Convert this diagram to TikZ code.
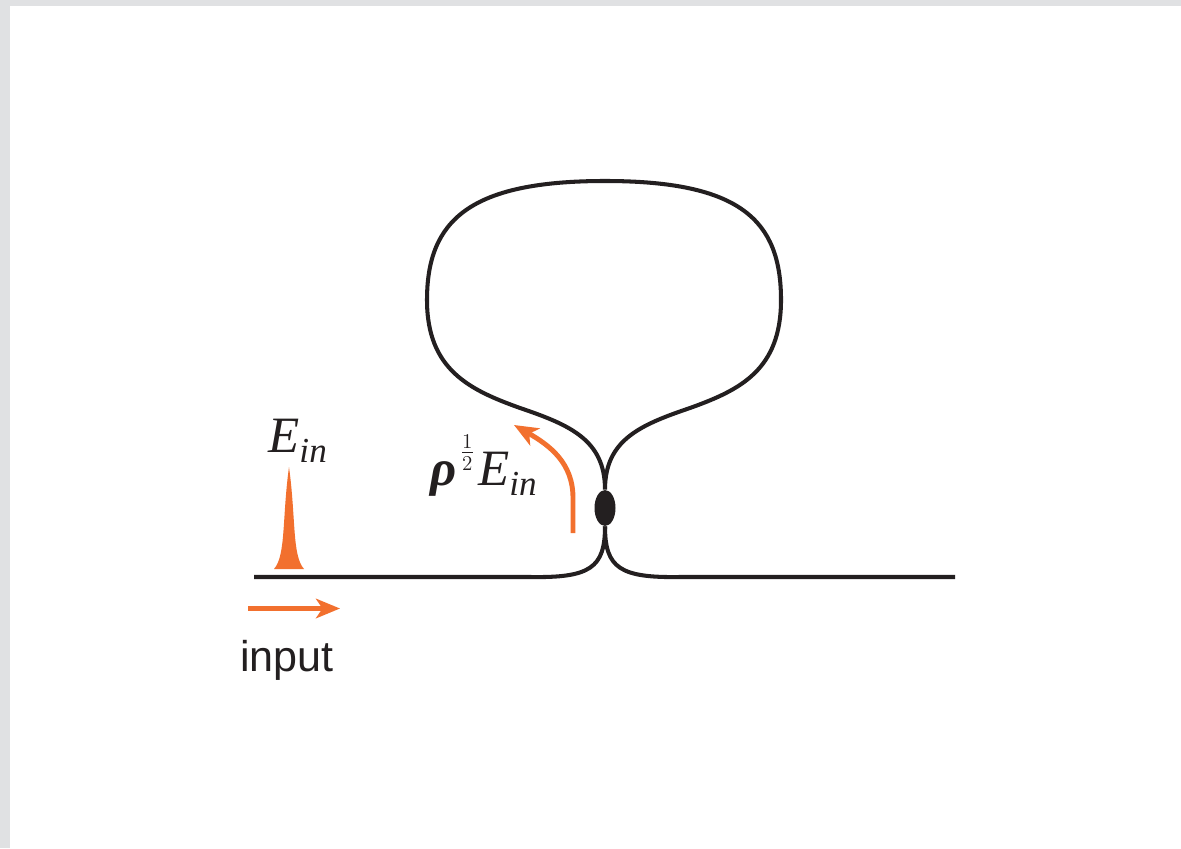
\documentclass[tikz,border=0pt]{standalone}
\usepackage{fontspec}
\setmainfont{Liberation Serif}
\newfontfamily\labelfont{Liberation Sans}
\usetikzlibrary{arrows.meta, shapes.geometric}
\definecolor{ringOrange}{HTML}{F2702E}
\definecolor{ringInk}{HTML}{231F20}
\definecolor{ringEdge}{HTML}{E0E1E3}
\newcommand{\Ein}{{\itshape E\raisebox{-6pt}{\fontsize{20}{20}\selectfont in}}}

\begin{document}
\begin{tikzpicture}[
  fibre/.style={draw=ringInk, line width=2.3pt},
  cplr/.style={ellipse, fill=ringInk, inner sep=0pt, minimum width=0.42cm, minimum height=0.72cm},
  arr/.style={-{Stealth[length=4.8mm, width=3.9mm, inset=1.3mm]}, draw=ringOrange, line width=2.4pt},
  lab/.style={font=\fontsize{29}{31}\selectfont, text=ringInk, inner sep=0pt, anchor=base west}
]
\useasboundingbox (0, 0) rectangle (23.62, 16.96);

% page edge
\fill[ringEdge] (0, 0) rectangle (23.62, 16.96);
\fill[white] (0.2, 0) rectangle (23.62, 16.84);

% ===== Coupler and ring =====
\node[cplr] (cpl) at (12.10, 6.80) {};
\coordinate (fin) at (5.08, 5.42);
\coordinate (fout) at (19.10, 5.42);

\draw[fibre] (cpl.north) .. controls (12.10, 8.16) and (11.40, 8.46) .. (10.40, 8.80)
  .. controls (9.40, 9.16) and (8.54, 9.56) .. (8.54, 10.96)
  .. controls (8.54, 12.56) and (9.40, 13.34) .. (12.10, 13.34)
  .. controls (14.80, 13.34) and (15.62, 12.56) .. (15.62, 10.96)
  .. controls (15.62, 9.56) and (14.80, 9.16) .. (13.80, 8.80)
  .. controls (12.80, 8.46) and (12.10, 8.16) .. (cpl.north);

% straight fibre
\draw[fibre] (fin) -- (10.60, 5.42) .. controls (11.80, 5.40) and (12.10, 5.60) .. (cpl.south);
\draw[fibre] (fout) -- (13.60, 5.42) .. controls (12.40, 5.40) and (12.10, 5.60) .. (cpl.south);

% ===== Input pulse =====
\fill[ringOrange] (5.48, 5.58) .. controls (5.72, 5.85) and (5.64, 6.60) .. (5.78, 7.62)
  .. controls (5.92, 6.60) and (5.84, 5.85) .. (6.08, 5.58) -- cycle;
\node[lab] (ein) at (5.36, 7.92) {\Ein};

\coordinate (inA) at (4.96, 4.79);
\coordinate (inB) at (6.80, 4.79);
\draw[arr] (inA) -- (inB);
\node[lab, anchor=base, font=\labelfont\fontsize{24.5}{26}\selectfont] (inp) at (5.74, 3.54) {input};

% ===== Coupled field =====
\coordinate (rhoA) at (11.46, 6.30);
\coordinate (rhoB) at (10.28, 8.46);
\draw[arr, line width=2.8pt] (rhoA) -- (11.46, 7.00) .. controls (11.46, 7.70) and (11.00, 8.05) .. (rhoB);
\node[lab] (rhoE) at (8.60, 7.26)
  {{\bfseries\itshape ρ}\kern2pt\raisebox{14pt}{\fontsize{17}{17}\selectfont$\frac{1}{2}$}\kern2pt\Ein};

\end{tikzpicture}
\end{document}
